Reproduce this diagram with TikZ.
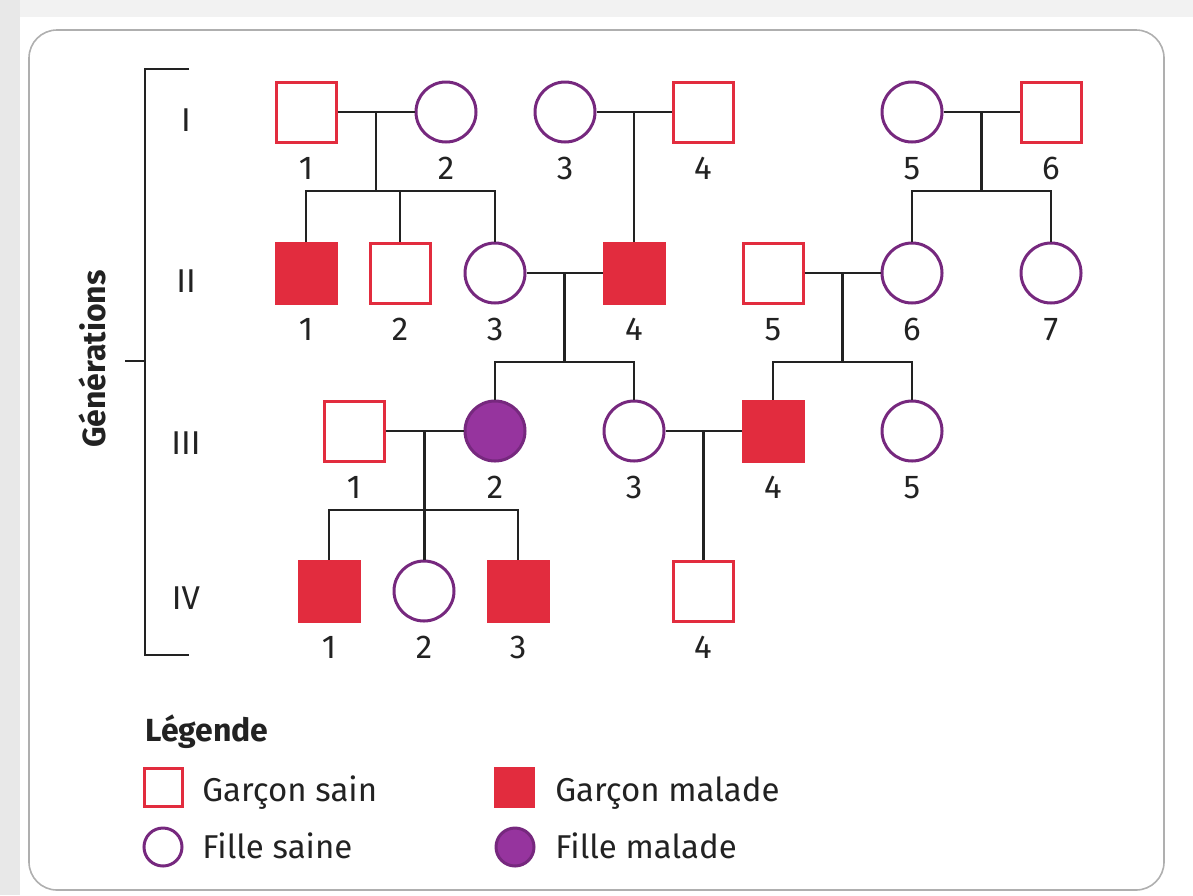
\documentclass[tikz,border=0pt]{standalone}
\usepackage{fontspec}
\setmainfont{Fira Sans}
\usetikzlibrary{calc,positioning}
\definecolor{rougeP}{RGB}{226,44,62}
\definecolor{violetP}{RGB}{118,40,126}
\definecolor{violetM}{RGB}{150,52,158}
\definecolor{trait}{RGB}{34,34,34}
\definecolor{cadre}{RGB}{175,175,175}

\begin{document}
\begin{tikzpicture}[x=0.5pt,y=-0.5pt,
    font=\fontsize{16.5}{19}\selectfont,
    garcon/.style={draw=rougeP,line width=1.5pt,minimum size=30pt,inner sep=0pt},
    garconM/.style={garcon,fill=rougeP},
    fille/.style={circle,draw=violetP,line width=1.5pt,minimum size=30pt,inner sep=0pt},
    filleM/.style={fille,fill=violetM},
    lien/.style={draw=trait,line width=1.2pt},
    gen/.style={text=trait},
    leg/.style={anchor=base west,inner sep=0pt,text=trait},
    label distance=3.5pt,every label/.style={text=trait}]
\useasboundingbox (0,0) rectangle (1193,895);
\fill[black!9] (0,0) rectangle (20,895);
\fill[black!5] (20,0) rectangle (1193,17);
\draw[cadre,line width=0.8pt,rounded corners=14pt] (29,30) rectangle (1164,890);

\draw[lien] (189,69) -- (145,69) -- (145,655) -- (189,655) (125,361) -- (145,361);
\node[rotate=90,text=trait,font=\bfseries\fontsize{16}{19}\selectfont] (gens) at (92,359) {Générations};
\node[gen] (gI) at (186,120) {I};
\node[gen] (gII) at (186,281) {II};
\node[gen] (gIII) at (186,443) {III};
\node[gen] (gIV) at (186,598) {IV};

\node[garcon,label={below:1}] (I1) at (306,112) {};
\node[fille,label={below:2}] (I2) at (446,112) {};
\node[fille,label={below:3}] (I3) at (565,112) {};
\node[garcon,label={below:4}] (I4) at (703,112) {};
\node[fille,label={below:5}] (I5) at (912,112) {};
\node[garcon,label={below:6}] (I6) at (1051,112) {};

\node[garconM,label={below:1}] (II1) at (306,273) {};
\node[garcon,label={below:2}] (II2) at (400,273) {};
\node[fille,label={below:3}] (II3) at (495,273) {};
\node[garconM,label={below:4}] (II4) at (634,273) {};
\node[garcon,label={below:5}] (II5) at (773,273) {};
\node[fille,label={below:6}] (II6) at (912,273) {};
\node[fille,label={below:7}] (II7) at (1051,273) {};

\node[garcon,label={below:1}] (III1) at (354,431) {};
\node[filleM,label={below:2}] (III2) at (495,431) {};
\node[fille,label={below:3}] (III3) at (634,431) {};
\node[garconM,label={below:4}] (III4) at (773,431) {};
\node[fille,label={below:5}] (III5) at (912,431) {};

\node[garconM,label={below:1}] (IV1) at (329,591) {};
\node[fille,label={below:2}] (IV2) at (424,591) {};
\node[garconM,label={below:3}] (IV3) at (518,591) {};
\node[garcon,label={below:4}] (IV4) at (703,591) {};

\coordinate (m12) at ($(I1.east)!0.5!(I2.west)$);
\coordinate (m34) at ($(I3.east)!0.5!(I4.west)$);
\coordinate (m56) at ($(I5.east)!0.5!(I6.west)$);
\coordinate (mII34) at ($(II3.east)!0.5!(II4.west)$);
\coordinate (mII56) at ($(II5.east)!0.5!(II6.west)$);
\coordinate (mIII12) at ($(III1.east)!0.5!(III2.west)$);
\coordinate (mIII34) at ($(III3.east)!0.5!(III4.west)$);
\path (m12) ++(0,79) coordinate (f12)
      (m56) ++(0,79) coordinate (f56)
      (mII34) ++(0,89) coordinate (fII34)
      (mII56) ++(0,89) coordinate (fII56)
      (mIII12) ++(0,79) coordinate (fIII12);

\draw[lien] (I1) -- (I2) (m12) -- (f12)
            (II1) |- (f12) -| (II3) (II2) -- (II2 |- f12);
\draw[lien] (I3) -- (I4) (m34) -- (m34 |- II4.north);
\draw[lien] (I5) -- (I6) (m56) -- (f56) (II6) |- (f56) -| (II7);
\draw[lien] (II3) -- (II4) (mII34) -- (fII34) (III2) |- (fII34) -| (III3);
\draw[lien] (II5) -- (II6) (mII56) -- (fII56) (III4) |- (fII56) -| (III5);
\draw[lien] (III1) -- (III2) (mIII12) -- (mIII12 |- IV2.north)
            (IV1) |- (fIII12) -| (IV3);
\draw[lien] (III3) -- (III4) (mIII34) -- (mIII34 |- IV4.north);

\node[leg,font=\bfseries\fontsize{16}{19}\selectfont] (titre) at (145,741) {Légende};
\node[garcon,minimum size=19pt] (lg1) at (163,787) {};
\node[fille,minimum size=19pt] (lg2) at (163,847) {};
\node[garconM,minimum size=19pt] (lg3) at (514,787) {};
\node[filleM,minimum size=19pt] (lg4) at (515,847) {};
\node[leg] (tg1) at (202,801) {Garçon sain};
\node[leg] (tg2) at (202,858) {Fille saine};
\node[leg] (tg3) at (555,801) {Garçon malade};
\node[leg] (tg4) at (555,858) {Fille malade};
\end{tikzpicture}
\end{document}
